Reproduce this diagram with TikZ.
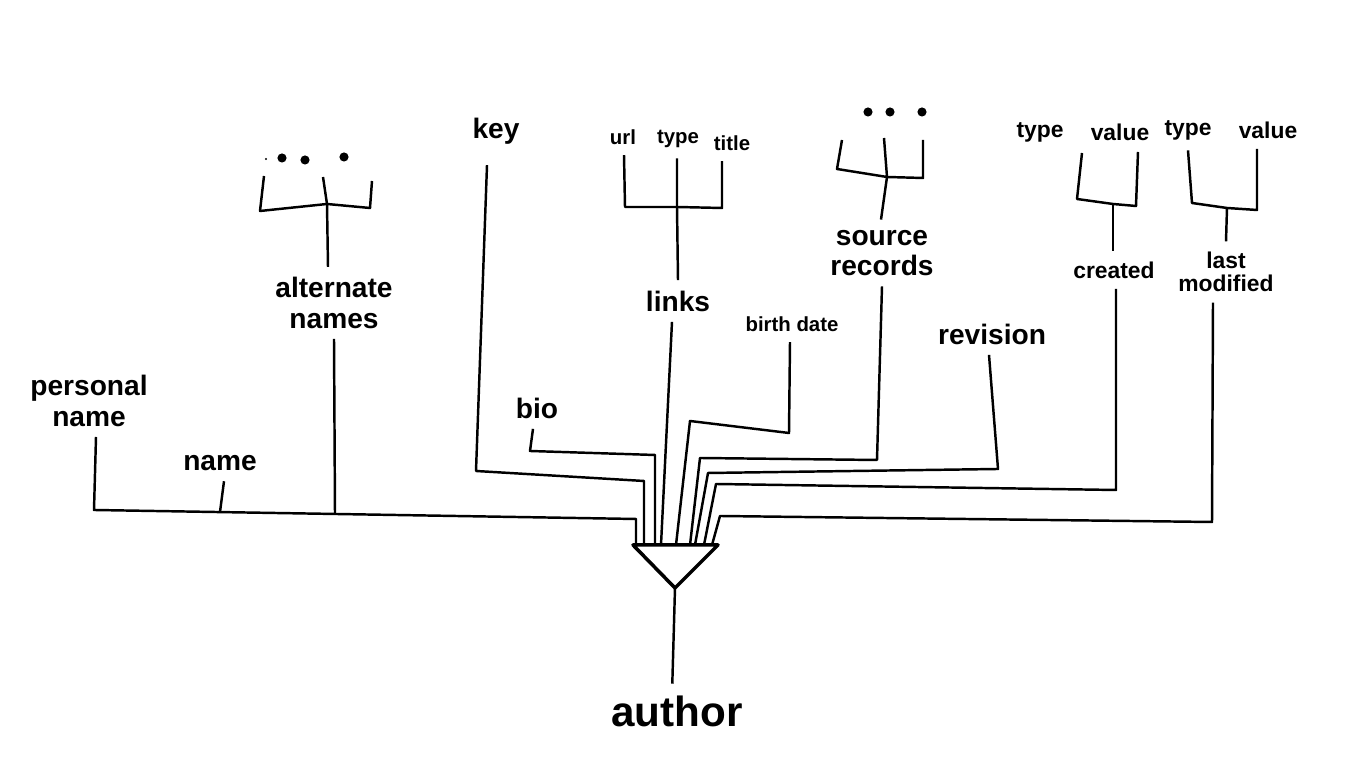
\documentclass[tikz,border=0pt]{standalone}
\usepackage{fontspec}
\setmainfont{Liberation Sans}

\begin{document}
	\begin{tikzpicture}[x=0.01cm,y=-0.01cm,line width=0.7pt,line join=round,
			lbl/.style={font=\bfseries\fontsize{8}{8.6}\selectfont,align=center,inner sep=0pt,outer sep=3pt},
			mlbl/.style={font=\bfseries\fontsize{6.5}{6.6}\selectfont,align=center,inner sep=0pt,outer sep=3pt},
			slbl/.style={font=\bfseries\fontsize{5.8}{6}\selectfont,inner sep=0pt,outer sep=3pt},
			dot/.style={circle,fill,inner sep=0pt,minimum size=2.6pt},
		]
		\useasboundingbox (0,0) rectangle (1366,768);
		%
		\node[font=\bfseries\fontsize{12}{12}\selectfont,inner sep=0pt] at (677,711) (author) {author};
		\coordinate (apex) at (675,588);
		\coordinate (tl) at (633,545);
		\coordinate (tr) at (718,545);
		\draw[line width=1pt] (tl) -- (tr) -- (apex) -- cycle;
		\draw[shorten >=3pt] (apex) -- (author.north -| 672,0);
		\foreach \n/\x in {i1/636,i2/644,i3/655,i4/661,i5/676,i6/690,i7/695,i8/704,i9/712}
			\coordinate (\n) at (\x,545);
		%
		\node[lbl] at (89,401) (pname) {personal\\name};
		\node[lbl] at (220,463) (name) {name};
		\node[lbl] at (334,303) (altn) {alternate\\names};
		\node[lbl] at (496,131) (key) {key};
		\node[lbl] at (537,408) (bio) {bio};
		\node[lbl] at (678,301) (links) {links};
		\node[slbl] at (792,324) (bdate) {birth date};
		\node[lbl] at (882,253) (srec) {source\\records};
		\node[lbl] at (992,334) (rev) {revision};
		\node[mlbl] at (1114,270) (created) {created};
		\node[mlbl] at (1226,272) (lmod) {last\\modified};
		%
		\draw (pname.south -| 96,0) -- (94,510) -- (336,514) -- (636,519) -- (i1);
		\draw (name.south -| 224,0) -- (220,512);
		\draw (altn.south) -- (335,514);
		\draw ([yshift=-3pt]key.south -| 487,0) -- (476,471) -- (644,481) -- (i2);
		\draw (bio.south -| 533,0) -- (530,451) -- (655,455) -- (i3);
		\draw (links.south -| 672,0) -- (i4);
		\draw (bdate.south -| 790,0) -- (789,433) -- (690,421) -- (i5);
		\draw (srec.south) -- (877,460) -- (700,458) -- (i6);
		\draw (rev.south -| 989,0) -- (998,469) -- (708,473) -- (i7);
		\draw (created.south -| 1116,0) -- (1116,490) -- (716,484) -- (i8);
		\draw (lmod.south -| 1213,0) -- (1212,522) -- (720,516) -- (i9);
		%
		% alternate names
		\coordinate (j1) at (327,204);
		\draw (altn.north -| 328,0) -- (j1);
		\draw (264,176) -- (260,211) -- (j1) -- (323,177);
		\draw (j1) -- (370,208) -- (372,181);
		\node[dot,minimum size=0.6pt] at (266,159) (d0) {};
		\node[dot] at (282,158) (d1) {};
		\node[dot] at (305,160) (d2) {};
		\node[dot] at (344,157) (d3) {};
		%
		% links
		\node[slbl] at (623,137) (url) {url};
		\node[slbl] at (678,139) (ltype) {type};
		\node[slbl] at (732,143) (title) {title};
		\coordinate (j2) at (677,207);
		\draw (url.south -| 624,0) -- (625,207) -- (j2) -- (722,208) -- (title.south -| 722,0);
		\draw (ltype.south -| 677,0) -- (j2) -- (links.north -| 678,0);
		%
		% source records
		\coordinate (j3) at (887,177);
		\draw (j3) -- (srec.north -| 881,0);
		\draw (842,140) -- (837,169) -- (j3) -- (884,138);
		\draw (j3) -- (923,178) -- (923,140);
		\node[dot] at (868,112) (d4) {};
		\node[dot] at (890,112) (d5) {};
		\node[dot] at (922,112) (d6) {};
		%
		% created
		\node[mlbl] at (1040,132) (ctype) {type};
		\node[mlbl] at (1120,132) (cval) {value};
		\coordinate (j4) at (1113,204);
		\draw (1082,153) -- (1077,199) -- (j4) -- (1136,206) -- (1138,152);
		\draw (j4) -- (created.north -| 1113,0);
		%
		% last modified
		\node[mlbl] at (1188,130) (mtype) {type};
		\node[mlbl] at (1268,130) (mval) {value};
		\coordinate (j5) at (1227,208);
		\draw (mtype.south) -- (1192,203) -- (j5) -- (1257,210) -- (1257,149);
		\draw (j5) -- (lmod.north -| 1226,0);
	\end{tikzpicture}
\end{document}
